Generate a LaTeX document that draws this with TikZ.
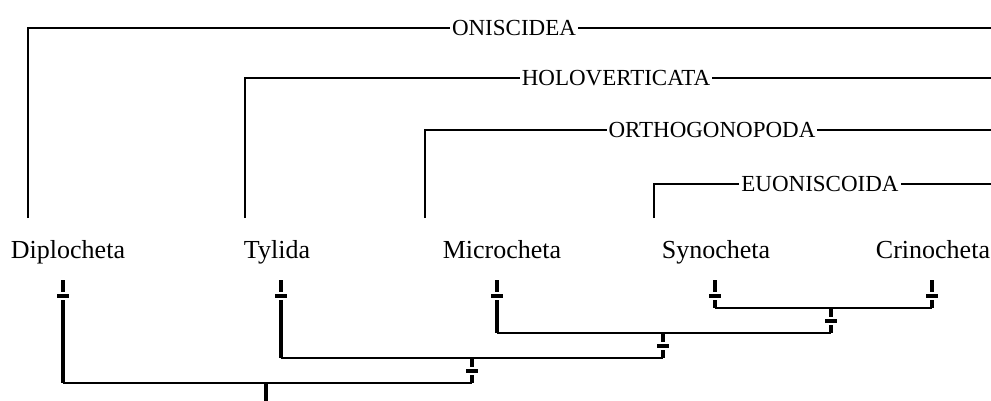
\documentclass[tikz,border=0pt]{standalone}
\usepackage{fontspec}
\setmainfont{Liberation Serif}
\begin{document}
\begin{tikzpicture}[x=1pt,y=-1pt,
  taxon/.style={font=\fontsize{26}{30}\selectfont, anchor=base, inner sep=0pt},
  clade/.style={font=\fontsize{23}{27}\selectfont, fill=white, inner xsep=2pt, inner ysep=0pt},
  cladeline/.style={line width=2.2pt},
  stem/.style={line width=3.4pt},
  hbar/.style={line width=1.7pt},
  tickbar/.style={draw=white, line width=1.2pt, fill=black, minimum width=13pt, minimum height=6pt, inner sep=0pt}]
\useasboundingbox (0,0) rectangle (991,401);

% taxa
\node[taxon] (dip) at (68,258) {Diplocheta};
\node[taxon] (tyl) at (277,258) {Tylida};
\node[taxon] (mic) at (502,258) {Microcheta};
\node[taxon] (syn) at (716,258) {Synocheta};
\node[taxon] (cri) at (933,258) {Crinocheta};

% upper clade brackets
\coordinate (oniB) at (28,218);   \coordinate (oniR) at (991,28);
\coordinate (holB) at (245,218);  \coordinate (holR) at (991,78);
\coordinate (ortB) at (425,218);  \coordinate (ortR) at (991,130);
\coordinate (euoB) at (654,218);  \coordinate (euoR) at (991,184);
\draw[cladeline] (oniB) |- (oniR);
\draw[cladeline] (holB) |- (holR);
\draw[cladeline] (ortB) |- (ortR);
\draw[cladeline] (euoB) |- (euoR);
\node[clade] (oni) at (514,28) {ONISCIDEA};
\node[clade] (hol) at (616,78) {HOLOVERTICATA};
\node[clade] (ort) at (712,130) {ORTHOGONOPODA};
\node[clade] (euo) at (820,184) {EUONISCOIDA};

% lower tree
\coordinate (dipT) at (63,280);  \coordinate (dipJ) at (63,383);
\coordinate (tylT) at (281,280); \coordinate (tylJ) at (281,358);
\coordinate (micT) at (497,280); \coordinate (micJ) at (497,333);
\coordinate (synT) at (715,280); \coordinate (synJ) at (715,308);
\coordinate (criT) at (932,280); \coordinate (criJ) at (932,308);
\coordinate (scT) at (831,308);  \coordinate (scJ) at (831,333);
\coordinate (mscT) at (663,333); \coordinate (mscJ) at (663,358);
\coordinate (tmT) at (472,358);  \coordinate (tmJ) at (472,383);
\coordinate (rootT) at (266,383); \coordinate (rootB) at (266,401);

\draw[stem] (dipT) -- (dipJ);
\draw[stem] (tylT) -- (tylJ);
\draw[stem] (micT) -- (micJ);
\draw[stem] (synT) -- (synJ);
\draw[stem] (criT) -- (criJ);
\draw[stem] (scT) -- (scJ);
\draw[stem] (mscT) -- (mscJ);
\draw[stem] (tmT) -- (tmJ);
\draw[stem] (rootT) -- (rootB);

\draw[hbar] (synJ) -- (criJ);
\draw[hbar] (micJ) -- (scJ);
\draw[hbar] (tylJ) -- (mscJ);
\draw[hbar] (dipJ) -- (tmJ);

% apomorphy ticks
\node[tickbar] (t1) at (63,296) {};
\node[tickbar] (t2) at (281,296) {};
\node[tickbar] (t3) at (497,296) {};
\node[tickbar] (t4) at (715,296) {};
\node[tickbar] (t5) at (932,296) {};
\node[tickbar] (t6) at (831,321) {};
\node[tickbar] (t7) at (663,346) {};
\node[tickbar] (t8) at (472,371) {};
\end{tikzpicture}
\end{document}
